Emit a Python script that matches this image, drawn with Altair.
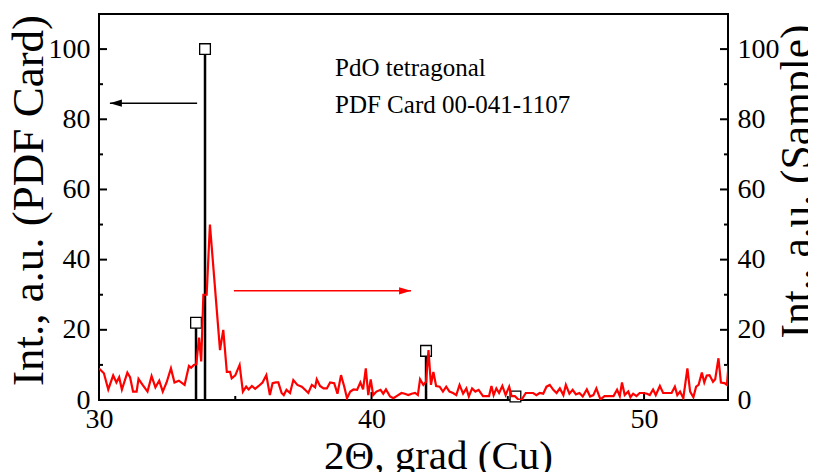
import altair as alt
import pandas as pd

# ---------------- data ----------------
red_x = [30.00, 30.18, 30.34, 30.52, 30.64, 30.74, 30.84, 31.04, 31.14, 31.25,
         31.38, 31.45, 31.60, 31.78, 31.93, 32.07, 32.21, 32.34, 32.48, 32.64,
         32.77, 32.93, 33.14, 33.30, 33.38, 33.48, 33.57, 33.67, 33.75, 33.83,
         33.95, 34.07, 34.44, 34.56, 34.69, 34.81, 34.87, 35.00, 35.16, 35.28,
         35.40, 35.49, 35.61, 35.73, 35.86, 36.00, 36.14, 36.27, 36.37, 36.49,
         36.58, 36.70, 36.78, 36.88, 37.01, 37.13, 37.28, 37.44, 37.56, 37.68,
         37.81, 37.93, 37.99, 38.11, 38.24, 38.36, 38.48, 38.63, 38.75, 38.88,
         39.00, 39.10, 39.22, 39.34, 39.47, 39.59, 39.69, 39.79, 39.88, 39.97,
         40.06, 40.18, 40.33, 40.43, 40.53, 40.68, 40.80, 40.92, 41.10, 41.22,
         41.35, 41.47, 41.60, 41.70, 41.78, 41.90, 42.00, 42.09, 42.18, 42.27,
         42.37, 42.50, 42.62, 42.74, 42.86, 42.99, 43.11, 43.23, 43.36, 43.48,
         43.57, 43.69, 43.81, 43.93, 44.09, 44.21, 44.31, 44.40, 44.48, 44.58,
         44.68, 44.80, 44.92, 45.05, 45.14, 45.26, 45.38, 45.50, 45.66, 45.81,
         45.93, 46.05, 46.17, 46.30, 46.42, 46.54, 46.67, 46.79, 46.91, 47.04,
         47.13, 47.26, 47.38, 47.50, 47.63, 47.75, 47.90, 48.02, 48.14, 48.25,
         48.34, 48.40, 48.55, 48.74, 48.88, 49.01, 49.11, 49.19, 49.29, 49.42,
         49.50, 49.60, 49.72, 49.84, 49.97, 50.11, 50.21, 50.33, 50.43, 50.58,
         50.70, 50.85, 51.01, 51.13, 51.22, 51.32, 51.44, 51.59, 51.69, 51.81,
         51.91, 52.00, 52.12, 52.21, 52.30, 52.40, 52.53, 52.61, 52.73, 52.82,
         52.95, 53.04, 53.10]
red_y = [9, 7.6, 3, 7, 5, 6.5, 3, 7.8, 6.5, 2.4,
         2.4, 6, 4.3, 2.4, 6.8, 3.6, 5.5, 2.4, 5, 9,
         5, 5.5, 4.3, 9.7, 9.2, 10, 10.2, 17.8, 11, 30,
         30, 50, 14.2, 20, 8, 8, 6.2, 7, 10, 2.4,
         3.8, 3, 4, 3.2, 4, 5, 7.1, 1.4, 4.8, 5,
         5, 2, 1.4, 2.9, 2, 5.7, 4.3, 3.8, 2.9, 2,
         4.3, 3.6, 5.9, 4, 3.3, 3.3, 5, 4.8, 1.8, 7.1,
         3.8, 0.5, 2.4, 3, 2.9, 5, 3, 9, 1.4, 5.9,
         1.4, 2.4, 2.9, 1.8, 3, 1, 0.5, 1.1, 2, 1.8,
         1.4, 1.8, 2, 1.4, 5.9, 4.3, 5.2, 14.2, 4.3, 8,
         4, 3.8, 2.4, 3.8, 2.4, 2, 1.4, 4.3, 1.8, 3.3,
         1, 3.3, 2.4, 2.9, 1.1, 1.1, 1.1, 4, 1.4, 3.3,
         2, 4, 1.4, 3.8, 1.1, 1.1, 0.2, 0, 2, 2,
         2, 1.4, 2, 1.8, 3.8, 4.3, 2.9, 2, 3.3, 1.4,
         4.3, 1.8, 2.9, 1.6, 2, 1, 3, 1, 1.4, 3.3,
         1.4, 0.2, 1.1, 1.1, 1.1, 2.9, 1.1, 5, 1.4, 2.4,
         0.8, 1.8, 1.1, 2, 2, 1.8, 1.4, 3, 1.4, 4,
         2, 2, 2, 3.8, 1.4, 2.4, 0.5, 9, 2.4, 0.8,
         3.8, 4.3, 7.8, 5, 7, 7.1, 5.2, 5.9, 11.9, 5,
         4.8, 4.3, 10]

pdf_x = [33.56, 33.89, 42.00, 45.28]
pdf_y = [22, 100, 14, 1]

y_label_values = [0, 20, 40, 60, 80, 100]
y_major_ticks = [0, 20, 40, 60, 80, 100]
y_minor_ticks = [10, 30, 50, 70, 90]
x_label_values = [30, 40, 50]
x_major_ticks = [30, 40, 50]
x_minor_ticks = [35, 45]

ann_text = ["PdO tetragonal", "PDF Card 00-041-1107"]
ann_x = [38.66, 38.66]
ann_y = [94.6, 84.1]

arrow_start = [33.60, 34.95]
arrow_tip = [30.40, 41.45]
arrow_y = [84.6, 31.1]
arrow_color = ["black", "red"]
arrow_dir = ["left", "right"]

# ---------------- chart ----------------
W, H = 629, 386
FONT = "Liberation Serif"


def xscale():
    return alt.Scale(domain=[30, 53.08], nice=False, zero=False)


def yscale():
    return alt.Scale(domain=[0, 110], nice=False, zero=False)


common = dict(ticks=False, tickSize=0, domain=False, grid=False, labelFontSize=28,
              labelFont=FONT, titleFont=FONT, labelColor="black", titleColor="black",
              titleFontWeight="normal", labelFlush=False)

x_axis = alt.Axis(values=x_label_values, title="2Θ, grad (Cu)", orient="bottom",
                  titleFontSize=41, labelPadding=5, titleBaseline="alphabetic",
                  titleX=339, titleY=68, titleAlign="center", **common)
left_axis = alt.Axis(values=y_label_values, title="Int., a.u. (PDF Card)", orient="left",
                     titleFontSize=45, labelPadding=9, titleAngle=270,
                     titleBaseline="middle", titleAlign="center", titleX=-71, titleY=186,
                     **common)
right_axis = alt.Axis(values=y_label_values, title="Int., a.u. (Sample)", orient="right",
                      titleFontSize=43.5, labelPadding=9, titleAngle=270,
                      titleBaseline="middle", titleAlign="center", titleX=69, titleY=167,
                      **common)

pdf = pd.DataFrame({"x": pdf_x, "y": pdf_y, "base": [0] * len(pdf_x)})
red = pd.DataFrame({"x": red_x, "y": red_y})

sticks = alt.Chart(pdf).mark_rule(color="black", strokeWidth=2.5).encode(
    x=alt.X("x:Q", scale=xscale(), axis=x_axis),
    y=alt.Y("y:Q", scale=yscale(), axis=left_axis),
    y2="base:Q",
)
squares = alt.Chart(pdf).mark_point(shape="square", size=115, filled=True, fill="white",
                                    stroke="black", strokeWidth=1.3, opacity=1).encode(
    x=alt.X("x:Q", scale=xscale(), axis=x_axis),
    y=alt.Y("y:Q", scale=yscale(), axis=None),
)


def yticks(vals, length, right=False):
    df = pd.DataFrame({"v": vals})
    if right:
        xa, xb = W - length, W
    else:
        xa, xb = 0, length
    return alt.Chart(df).mark_rule(color="black", strokeWidth=2).encode(
        y=alt.Y("v:Q", scale=yscale(), axis=None), x=alt.value(xa), x2=alt.value(xb))


def xticks(vals, length):
    df = pd.DataFrame({"v": vals})
    return alt.Chart(df).mark_rule(color="black", strokeWidth=2).encode(
        x=alt.X("v:Q", scale=xscale(), axis=x_axis), y=alt.value(H - length),
        y2=alt.value(H))


texts = alt.Chart(pd.DataFrame({"x": ann_x, "y": ann_y, "t": ann_text})).mark_text(
    align="left", baseline="middle", font=FONT, fontSize=25, color="black").encode(
    x=alt.X("x:Q", scale=xscale(), axis=x_axis), y=alt.Y("y:Q", scale=yscale(), axis=None),
    text="t:N")

arr = pd.DataFrame({"x1": arrow_start, "x2": arrow_tip, "y": arrow_y,
                    "c": arrow_color, "d": arrow_dir})
shafts = alt.Chart(arr).mark_rule(strokeWidth=1.5).encode(
    x=alt.X("x1:Q", scale=xscale(), axis=x_axis), x2="x2:Q",
    y=alt.Y("y:Q", scale=yscale(), axis=None),
    color=alt.Color("c:N", scale=None),
)
heads = alt.Chart(arr).mark_point(filled=True, size=144, opacity=1, strokeWidth=0).encode(
    x=alt.X("x2:Q", scale=xscale(), axis=x_axis),
    y=alt.Y("y:Q", scale=yscale(), axis=None),
    color=alt.Color("c:N", scale=None),
    shape=alt.Shape("d:N", scale=alt.Scale(domain=["left", "right"],
                                           range=["M0,0L2,-0.6L2,0.6Z", "M0,0L-2,-0.6L-2,0.6Z"]),
                    legend=None),
)

red_line = alt.Chart(red).mark_line(color="#ff0000", strokeWidth=2.2, clip=True).encode(
    x=alt.X("x:Q", scale=xscale(), axis=x_axis),
    y=alt.Y("y:Q", scale=yscale(), axis=right_axis),
)

chart = alt.layer(
    sticks, squares,
    yticks(y_major_ticks, 8), yticks(y_minor_ticks, 4),
    yticks(y_major_ticks, 8, True), yticks(y_minor_ticks, 4, True),
    xticks(x_major_ticks, 8), xticks(x_minor_ticks, 4),
    texts, shafts, heads, red_line,
).resolve_scale(y="independent").properties(
    width=W, height=H,
    autosize=alt.AutoSizeParams(type="none"),
    padding={"left": 91, "top": 6, "right": 80, "bottom": 74},
).configure_view(stroke="black", strokeWidth=2)

chart.save("out.html", embed_options={"renderer": "svg", "actions": False})
